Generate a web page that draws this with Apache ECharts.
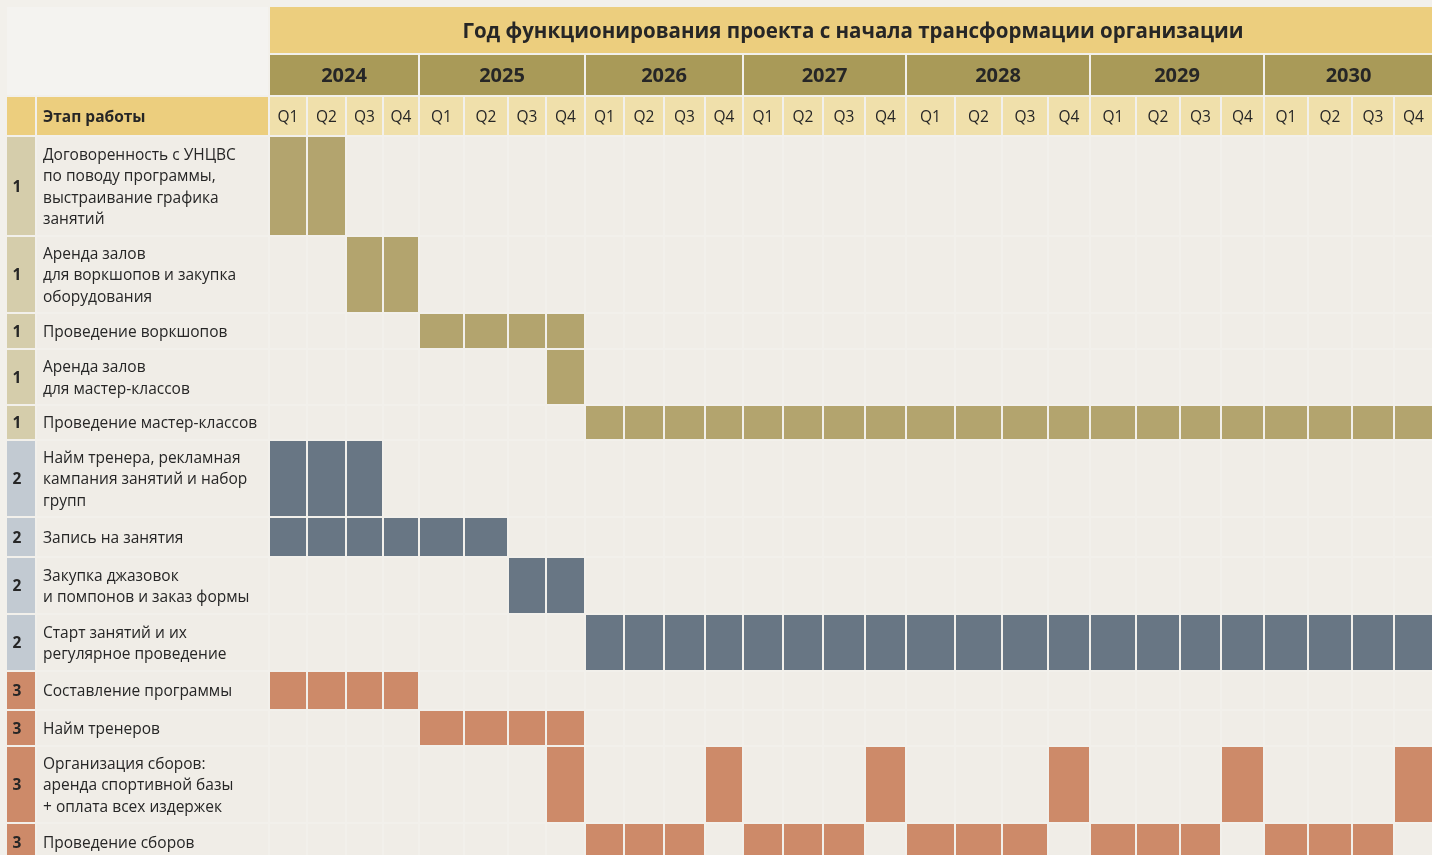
<!DOCTYPE html>
<html>
<head>
<meta charset="utf-8">
<script src="https://cdn.jsdelivr.net/npm/echarts@6/dist/echarts.min.js"></script>
<style>
  html, body { margin: 0; padding: 0; background: #f2f0eb; }
  #chart { width: 1432px; height: 855px; }
</style>
</head>
<body>
<div id="chart"></div>
<script>
// данные
var title = 'Год функционирования проекта с начала трансформации организации';
var stageHeader = 'Этап работы';
var years = ['2024', '2025', '2026', '2027', '2028', '2029', '2030'];
var quarters = ['Q1', 'Q2', 'Q3', 'Q4'];
var stages = [1, 1, 1, 1, 1, 2, 2, 2, 2, 3, 3, 3, 3];
var tasks = [
    'Договоренность с УНЦВС\nпо поводу программы,\nвыстраивание графика\nзанятий',
    'Аренда залов\nдля воркшопов и закупка\nоборудования',
    'Проведение воркшопов',
    'Аренда залов\nдля мастер-классов',
    'Проведение мастер-классов',
    'Найм тренера, рекламная\nкампания занятий и набор\nгрупп',
    'Запись на занятия',
    'Закупка джазовок\nи помпонов и заказ формы',
    'Старт занятий и их\nрегулярное проведение',
    'Составление программы',
    'Найм тренеров',
    'Организация сборов:\nаренда спортивной базы\n+ оплата всех издержек',
    'Проведение сборов'
];
// номера кварталов (0 = 2024 Q1 ... 27 = 2030 Q4)
var activeQuarters = [
    [0, 1],
    [2, 3],
    [4, 5, 6, 7],
    [7],
    [8, 9, 10, 11, 12, 13, 14, 15, 16, 17, 18, 19, 20, 21, 22, 23, 24, 25, 26, 27],
    [0, 1, 2],
    [0, 1, 2, 3, 4, 5],
    [6, 7],
    [8, 9, 10, 11, 12, 13, 14, 15, 16, 17, 18, 19, 20, 21, 22, 23, 24, 25, 26, 27],
    [0, 1, 2, 3],
    [4, 5, 6, 7],
    [7, 11, 15, 19, 23, 27],
    [8, 9, 10, 12, 13, 14, 16, 17, 18, 20, 21, 22, 24, 25, 26]
];

// разметка таблицы
var colEdges = [270, 308, 347, 384, 420, 465, 509, 547, 586, 625, 665, 706, 744, 784, 824, 866,
    907, 956, 1003, 1049, 1091, 1137, 1181, 1222, 1265, 1309, 1353, 1395, 1438];
var rowEdges = [137, 237, 314, 350, 406, 441, 518, 558, 615, 672, 711, 747, 824, 862];
var barColors = ['#b3a46e', '#687684', '#cd8a69'];
var numColors = ['#d5cdab', '#c2cad2', '#cd8a69'];
var cellBg = '#f0ede7';
var textColor = '#262626';
var FONT = '"Open Sans", "Noto Sans", sans-serif';
var dy = 1.5; // сдвиг текста вниз

var quarterData = [];
for (var q = 0; q < years.length * 4; q++) quarterData.push([q, quarters[q % 4]]);

function rect(api, x0, y0, x1, y1, fill) {
    var a = api.coord([x0, y0]);
    var b = api.coord([x1, y1]);
    return { type: 'rect', shape: { x: a[0], y: a[1], width: b[0] - a[0], height: b[1] - a[1] }, style: { fill: fill } };
}
function text(api, x, y, str, font, align) {
    var p = api.coord([x, y + dy]);
    return {
        type: 'text',
        style: { x: p[0], y: p[1], text: str, font: font, fill: textColor, align: align || 'center', verticalAlign: 'middle', lineHeight: 21.5 }
    };
}

var dom = document.getElementById('chart');
var myChart = echarts.init(dom, null, { renderer: 'canvas' });

var option = {
    backgroundColor: '#f2f0eb',
    animation: false,
    grid: { left: 0, right: 0, top: 0, bottom: 0 },
    xAxis: { type: 'value', min: 0, max: 1432, show: false },
    yAxis: { type: 'value', min: 0, max: 855, inverse: true, show: false },
    series: [
        {
            // заголовок и шапка слева
            type: 'custom',
            data: [[0]],
            renderItem: function (params, api) {
                return {
                    type: 'group',
                    children: [
                        rect(api, 7, 7, 268, 95, '#f4f3f0'),
                        rect(api, 270, 7, 1432, 53, '#ecce7e'),
                        text(api, 853, 30.5, title, 'bold 20.5px ' + FONT),
                        rect(api, 7, 97, 35, 135, '#ecce7e'),
                        rect(api, 37, 97, 268, 135, '#ecce7e'),
                        text(api, 43, 116, stageHeader, 'bold 15.5px ' + FONT, 'left')
                    ]
                };
            }
        },
        {
            // годы
            type: 'custom',
            data: years.map(function (y, i) { return [i, y]; }),
            renderItem: function (params, api) {
                var i = api.value(0);
                var x0 = colEdges[i * 4], x1 = colEdges[i * 4 + 4] - 2;
                return {
                    type: 'group',
                    children: [
                        rect(api, x0, 55, x1, 95, '#a99a58'),
                        text(api, (x0 + Math.min(x1, 1432)) / 2, 75, years[i], 'bold 20px ' + FONT)
                    ]
                };
            }
        },
        {
            // кварталы
            type: 'custom',
            data: quarterData,
            renderItem: function (params, api) {
                var q = api.value(0);
                var x0 = colEdges[q], x1 = colEdges[q + 1] - 2;
                return {
                    type: 'group',
                    children: [
                        rect(api, x0, 97, x1, 135, '#f0e0ab'),
                        text(api, (x0 + Math.min(x1, 1432)) / 2, 116, quarters[q % 4], '15.5px ' + FONT)
                    ]
                };
            }
        },
        {
            // этапы работы
            type: 'custom',
            data: tasks.map(function (t, i) { return [i, stages[i]]; }),
            renderItem: function (params, api) {
                var i = api.value(0);
                var s = stages[i] - 1;
                var y0 = rowEdges[i], y1 = rowEdges[i + 1] - 2;
                var ym = (y0 + y1) / 2;
                var children = [
                    rect(api, 7, y0, 35, y1, numColors[s]),
                    text(api, 12.5, ym, String(stages[i]), 'bold 15.5px ' + FONT, 'left'),
                    rect(api, 37, y0, 268, y1, cellBg),
                    text(api, 43, ym, tasks[i], '15.5px ' + FONT, 'left')
                ];
                for (var q = 0; q < colEdges.length - 1; q++) {
                    var on = activeQuarters[i].indexOf(q) >= 0;
                    children.push(rect(api, colEdges[q], y0, colEdges[q + 1] - 2, y1, on ? barColors[s] : cellBg));
                }
                return { type: 'group', children: children };
            }
        }
    ]
};

myChart.setOption(option);
window.addEventListener('resize', myChart.resize);
</script>
</body>
</html>
